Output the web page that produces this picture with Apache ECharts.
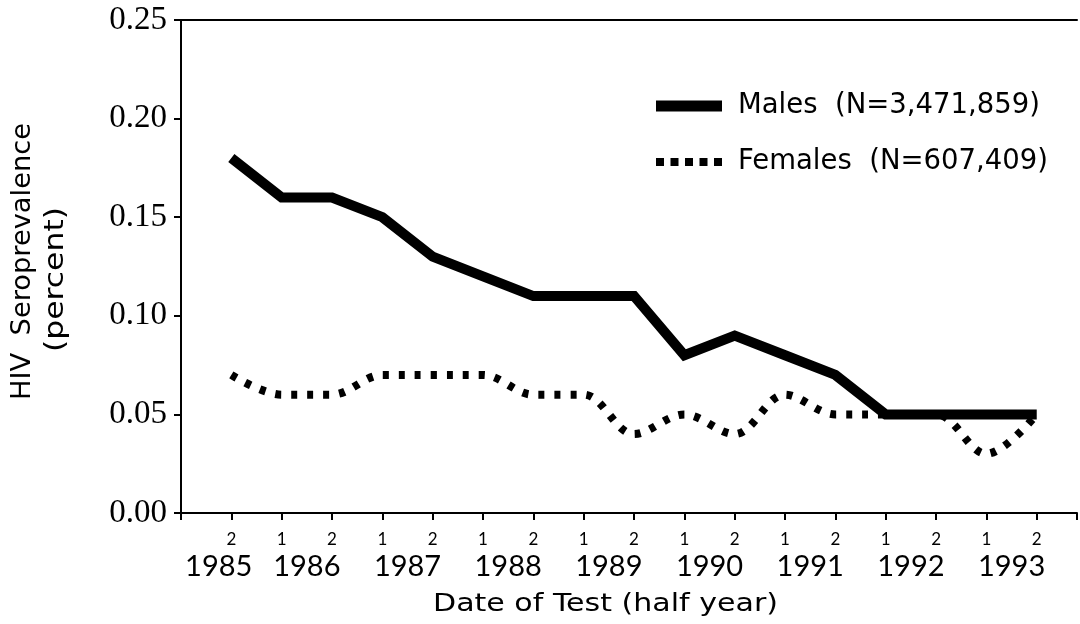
<!DOCTYPE html>
<html><head><meta charset="utf-8">
<script src="https://cdn.jsdelivr.net/npm/echarts@6/dist/echarts.min.js"></script>
<style>html,body{margin:0;padding:0;background:#fff}#c{width:1080px;height:624px}</style>
</head><body><div id="c"></div>
<script>
// ---- data ----
const years   = [1985,1986,1986,1987,1987,1988,1988,1989,1989,1990,1990,1991,1991,1992,1992,1993,1993];
const halves  = [2,1,2,1,2,1,2,1,2,1,2,1,2,1,2,1,2];
const males   = [0.18,0.16,0.16,0.15,0.13,0.12,0.11,0.11,0.11,0.08,0.09,0.08,0.07,0.05,0.05,0.05,0.05];
const females = [0.07,0.06,0.06,0.07,0.07,0.07,0.06,0.06,0.04,0.05,0.04,0.06,0.05,0.05,0.05,0.03,0.05];
const seriesNames = ['Males  (N=3,471,859)', 'Females  (N=607,409)'];
const xTitle = 'Date of Test (half year)';
const yTitleLines = ['HIV  Seroprevalence', '(percent)'];

// ---- build ----
const SANS = 'Lato';
const WIDE = 'DejaVu Sans';
const SERIF = 'Liberation Serif';
const pos = years.map((_, i) => i + 1);
const yearPos = {};
years.forEach((y, i) => { (yearPos[y] = yearPos[y] || []).push(pos[i]); });
Object.keys(yearPos).forEach(y => {
  const a = yearPos[y];
  yearPos[y] = a.length > 1 ? a.reduce((s, v) => s + v, 0) / a.length : a[0] - 0.25;
});
const XMAX = 17.8;

const mctx = document.createElement('canvas').getContext('2d');
function fitScale(text, font, target) { mctx.font = font; return target / mctx.measureText(text).width; }

const fX = '25px "' + WIDE + '"';
const fY = '26px "' + WIDE + '"';

const chart = echarts.init(document.getElementById('c'), null, {renderer: 'canvas'});
const axisLine = {show: true, lineStyle: {color: '#000', width: 2}};
chart.setOption({
  animation: false,
  backgroundColor: '#fff',
  grid: {left: 181, right: 0, top: 20, bottom: 111, containLabel: false},
  xAxis: [
    {
      type: 'value', min: 0, max: XMAX, interval: 1, position: 'bottom',
      axisLine: axisLine,
      axisTick: {show: true, length: 7, lineStyle: {color: '#000', width: 2}},
      splitLine: {show: false},
      axisLabel: {
        margin: 18, color: '#000', fontFamily: SANS, fontSize: 17,
        showMinLabel: true, showMaxLabel: true,
        formatter: v => { const i = Math.round(v) - 1; return (Math.abs(v - Math.round(v)) < 1e-6 && i >= 0 && i < halves.length) ? String(halves[i]) : ''; }
      }
    },
    {
      type: 'value', min: 0, max: XMAX, interval: 0.25, position: 'bottom', offset: 29,
      axisLine: {show: false}, axisTick: {show: false}, splitLine: {show: false},
      axisLabel: {
        margin: 10, color: '#000', fontFamily: SANS, fontSize: 29,
        showMinLabel: true, showMaxLabel: true, hideOverlap: false,
        formatter: v => { const k = Object.keys(yearPos).find(y => Math.abs(yearPos[y] - v) < 1e-6); return k || ''; }
      }
    },
    {
      type: 'value', min: 0, max: XMAX, position: 'top',
      axisLine: axisLine, axisTick: {show: false}, axisLabel: {show: false}, splitLine: {show: false}
    }
  ],
  yAxis: {
    type: 'value', min: 0, max: 0.25, interval: 0.05,
    axisLine: axisLine,
    axisTick: {show: true, length: 7, lineStyle: {color: '#000', width: 2}},
    splitLine: {show: false},
    axisLabel: {margin: 14, color: '#000', fontFamily: SERIF, fontSize: 33, formatter: v => v.toFixed(2)}
  },
  legend: {
    orient: 'vertical', left: 651, top: 86, itemWidth: 66, itemHeight: 11, itemGap: 26,
    symbolKeepAspect: true,
    textStyle: {color: '#000', fontFamily: WIDE, fontSize: 27.5, lineHeight: 30, padding: [0, 0, 0, 11]},
    data: [
      {name: seriesNames[0], icon: 'path://M0,0h66v11h-66z'},
      {name: seriesNames[1], icon: 'path://M0,0h8v8h-8zM14.5,0h8v8h-8zM29,0h8v8h-8zM43.5,0h8v8h-8zM58,0h8v8h-8z'}
    ]
  },
  graphic: [
    {type: 'text', x: 605.5, y: 604, scaleX: fitScale(xTitle, fX, 345),
     style: {text: xTitle, font: fX, fill: '#000', align: 'center', verticalAlign: 'middle'}},
    {type: 'text', x: 23.5, y: 261.5, rotation: Math.PI / 2, scaleX: fitScale(yTitleLines[0], fY, 277),
     style: {text: yTitleLines[0], font: fY, fill: '#000', align: 'center', verticalAlign: 'middle'}},
    {type: 'text', x: 56, y: 279.5, rotation: Math.PI / 2, scaleX: fitScale(yTitleLines[1], fY, 145),
     style: {text: yTitleLines[1], font: fY, fill: '#000', align: 'center', verticalAlign: 'middle'}}
  ],
  series: [
    {
      name: seriesNames[0], type: 'line', xAxisIndex: 0, symbol: 'none',
      data: pos.map((x, i) => [x, males[i]]),
      lineStyle: {color: '#000', width: 10, cap: 'butt', join: 'miter'},
      itemStyle: {color: '#000'}, z: 3
    },
    {
      name: seriesNames[1], type: 'line', xAxisIndex: 0, symbol: 'none', smooth: 0.35,
      data: pos.map((x, i) => [x, females[i]]),
      lineStyle: {color: '#000', width: 8, type: [6, 10], cap: 'butt'},
      itemStyle: {color: '#000'}, z: 2
    }
  ]
});
</script></body></html>
